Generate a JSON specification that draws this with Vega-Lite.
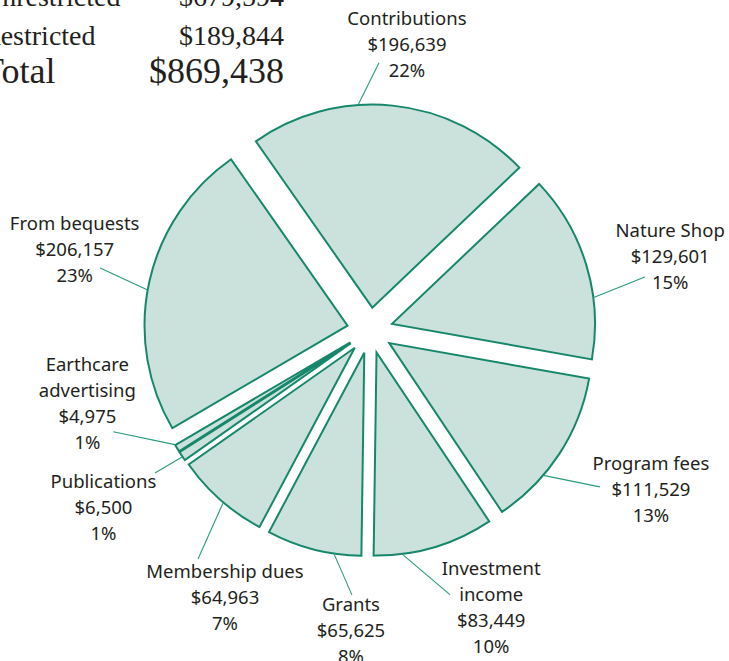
{
  "$schema": "https://vega.github.io/schema/vega-lite/v6.json",
  "width": 718,
  "height": 661,
  "autosize": {"type": "none"},
  "padding": {"left": 11, "top": 0, "right": 0, "bottom": 0},
  "background": "white",
  "config": {"view": {"stroke": null}},
  "params": [
    {"name": "loff", "value": {"Contributions": 0.029, "Nature Shop": 0.0525, "Program fees": -0.0627, "Investment income": -0.124, "Grants": -0.188, "Membership dues": -0.226, "Publications": 0.003, "Earthcare advertising": 0.294, "From bequests": 0.0497}},
    {"name": "lrad", "value": {"Contributions": 288, "Nature Shop": 309, "Program fees": 323, "Investment income": 303, "Grants": 301, "Membership dues": 304, "Publications": 320, "Earthcare advertising": 292, "From bequests": 306}},
    {"name": "soff", "value": {"Contributions": -0.152, "Nature Shop": 0.146, "Program fees": 0.117, "Investment income": 0.1445, "Grants": -0.091, "Membership dues": -0.0168, "Publications": -0.003, "Earthcare advertising": 0.0187, "From bequests": -0.035}},
    {"name": "roff", "value": {"Contributions": -0.066, "Nature Shop": 0.1, "Program fees": 0.0185, "Investment income": -0.0065, "Grants": -0.183, "Membership dues": -0.078, "Publications": 0.004, "Earthcare advertising": 0.172, "From bequests": 0.0127}},
    {"name": "rrad", "value": {"Contributions": 268, "Nature Shop": 280, "Program fees": 278, "Investment income": 276, "Grants": 265, "Membership dues": 286, "Publications": 258, "Earthcare advertising": 276, "From bequests": 277}}
  ],
  "datasets": {
    "header": [
      {"line": "Unrestricted", "col": "name", "text": "Unrestricted"},
      {"line": "Unrestricted", "col": "value", "text": "$679,594"},
      {"line": "Restricted", "col": "name", "text": "Restricted"},
      {"line": "Restricted", "col": "value", "text": "$189,844"},
      {"line": "Total", "col": "name", "text": "Total"},
      {"line": "Total", "col": "value", "text": "$869,438"}
    ]
  },
  "data": {
    "values": [
      {"rank": 1, "category": "Contributions", "amount": 196639, "label": ["Contributions", "$196,639", "22%"]},
      {"rank": 2, "category": "Nature Shop", "amount": 129601, "label": ["Nature Shop", "$129,601", "15%"]},
      {"rank": 3, "category": "Program fees", "amount": 111529, "label": ["Program fees", "$111,529", "13%"]},
      {"rank": 4, "category": "Investment income", "amount": 83449, "label": ["Investment", "income", "$83,449", "10%"]},
      {"rank": 5, "category": "Grants", "amount": 65625, "label": ["Grants", "$65,625", "8%"]},
      {"rank": 6, "category": "Membership dues", "amount": 64963, "label": ["Membership dues", "$64,963", "7%"]},
      {"rank": 7, "category": "Publications", "amount": 6500, "label": ["Publications", "$6,500", "1%"]},
      {"rank": 8, "category": "Earthcare advertising", "amount": 4975, "label": ["Earthcare", "advertising", "$4,975", "1%"]},
      {"rank": 9, "category": "From bequests", "amount": 206157, "label": ["From bequests", "$206,157", "23%"]}
    ]
  },
  "layer": [
    {
      "mark": {
        "type": "arc",
        "outerRadius": 203,
        "innerRadius": 0,
        "fill": "#cbe2dc",
        "stroke": "#17876b",
        "strokeWidth": 2,
        "strokeJoin": "miter",
        "x": {"expr": "width / 2 + 23 * sin((scale('theta', datum.amount_start) + scale('theta', datum.amount_end)) / 2)"},
        "y": {"expr": "height / 2 - 23 * cos((scale('theta', datum.amount_start) + scale('theta', datum.amount_end)) / 2)"}
      },
      "encoding": {
        "theta": {"field": "amount", "type": "quantitative", "stack": true, "scale": {"range": [-0.61087, 5.67232]}},
        "order": {"field": "rank", "type": "quantitative"}
      }
    },
    {
      "transform": [
        {"window": [{"op": "sum", "field": "amount", "as": "cum"}], "sort": [{"field": "rank"}], "frame": [null, 0]}
      ],
      "mark": {
        "type": "rule",
        "stroke": "#2b9a7f",
        "strokeWidth": 1.1
      },
      "encoding": {
        "x": {"value": {"expr": "width / 2 + 226 * sin(scale('theta', datum.cum - datum.amount / 2) + soff[datum.category])"}},
        "y": {"value": {"expr": "height / 2 - 226 * cos(scale('theta', datum.cum - datum.amount / 2) + soff[datum.category])"}},
        "x2": {"value": {"expr": "width / 2 + rrad[datum.category] * sin(scale('theta', datum.cum - datum.amount / 2) + roff[datum.category])"}},
        "y2": {"value": {"expr": "height / 2 - rrad[datum.category] * cos(scale('theta', datum.cum - datum.amount / 2) + roff[datum.category])"}}
      }
    },
    {
      "transform": [
        {"window": [{"op": "sum", "field": "amount", "as": "cum"}], "sort": [{"field": "rank"}], "frame": [null, 0]}
      ],
      "mark": {
        "type": "text",
        "font": "Noto Sans",
        "fontSize": 18.5,
        "lineHeight": 26,
        "color": "#231f20",
        "align": "center",
        "baseline": "middle",
        "dy": {"expr": "-(length(datum.label) - 1) * 13"},
        "theta": {"expr": "scale('theta', datum.cum - datum.amount / 2) + loff[datum.category]"},
        "radius": {"expr": "lrad[datum.category]"}
      },
      "encoding": {
        "text": {"field": "label"}
      }
    },
    {
      "data": {"name": "header"},
      "mark": {
        "type": "text",
        "font": "Liberation Serif",
        "color": "#231f20",
        "baseline": "alphabetic",
        "align": {"expr": "datum.col == 'name' ? 'left' : 'right'"},
        "fontSize": {"expr": "datum.line == 'Total' ? 36 : 28"}
      },
      "encoding": {
        "x": {"field": "col", "type": "nominal", "scale": {"domain": ["name", "value"], "range": [-29, 273], "padding": 0}, "axis": null},
        "y": {"field": "line", "type": "nominal", "scale": {"domain": ["Unrestricted", "Restricted", "Total"], "range": [6, 83], "padding": 0}, "axis": null},
        "text": {"field": "text"}
      }
    }
  ]
}
